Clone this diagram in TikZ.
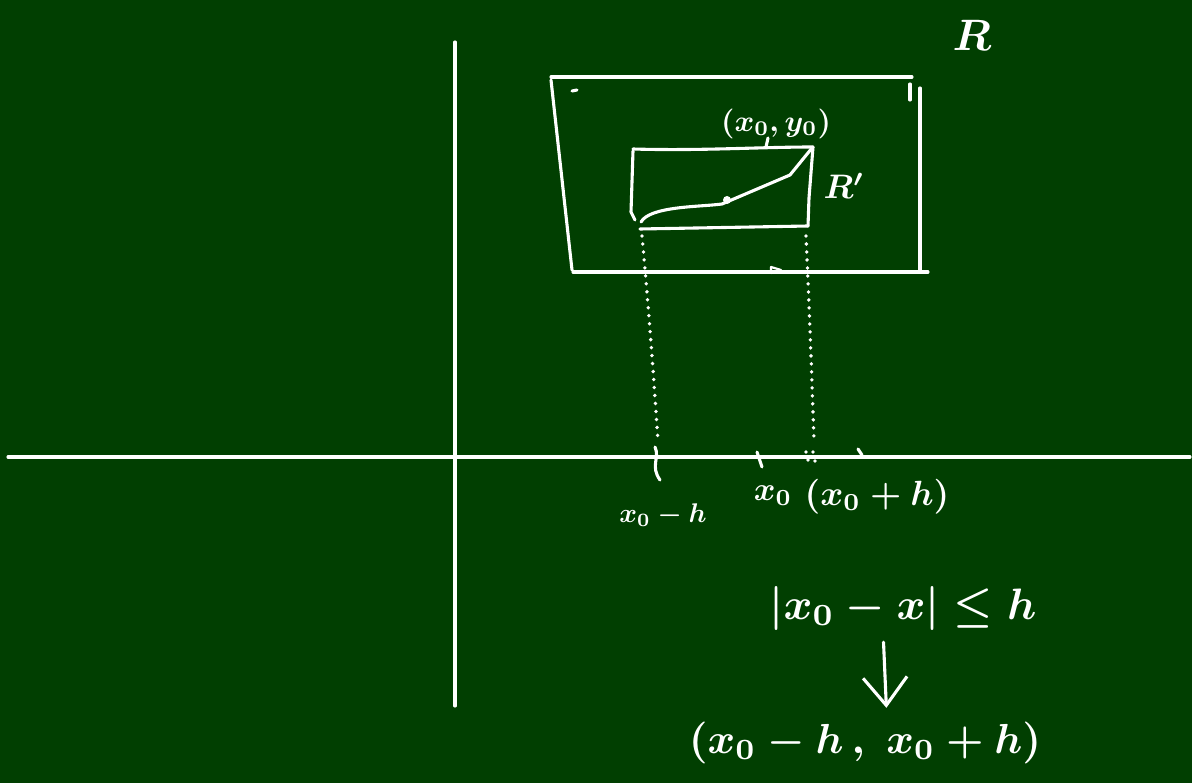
\documentclass[tikz,border=0pt]{standalone}
\usetikzlibrary{arrows.meta}
\definecolor{board}{RGB}{1,63,1}
\tikzset{
  chalk/.style={draw=white, line width=3.1pt, line cap=round, line join=round},
  dotchalk/.style={draw=white, line width=3.8pt, line cap=round, dash pattern=on 0pt off 8pt},
  lbl/.style={text=white, inner sep=0pt, font=\boldmath}
}
\begin{document}
\begin{tikzpicture}[x=1pt,y=-1pt]
\fill[board] (0,0) rectangle (1192,783);
\useasboundingbox (0,0) rectangle (1192,783);
% axes
\draw[chalk] (455,42) -- (455,706);
\draw[chalk] (8,457) -- (1190,457);
% outer region R
\draw[chalk] (551,77) -- (912,77);
\draw[chalk] (551,80) -- (572,270);
\draw[chalk] (573,272) -- (928,272);
\draw[chalk] (920,88) -- (920,270);
\draw[chalk] (910,84) -- (910,100);
\draw[chalk] (572,91) -- (577,90);
\draw[chalk, line width=2.2pt] (771,267) -- (781,270) -- (771,273) -- cycle;
\node[lbl] (R) at (972,35) {\scalebox{4.4}{$R$}};
% inner rectangle R'
\draw[chalk] (633,149) .. controls (700,151) and (760,147) .. (813,147);
\draw[chalk] (633,151) -- (631,212) -- (635,220);
\draw[chalk] (813,147) -- (809,198) -- (808,226);
\draw[chalk] (640,229) -- (808,226);
\draw[chalk] (641,222) .. controls (650,206) and (700,207) .. (722,204) -- (790,175) -- (812,148);
\fill[white] (727,200) circle (4);
\draw[chalk] (768,138) -- (766,147);
\node[lbl] (p0) at (776,124) {\scalebox{3}{$(x_0,y_0)$}};
\node[lbl] (Rp) at (844,186) {\scalebox{3.4}{$R'$}};
% dotted projections
\draw[dotchalk] (642,236) .. controls (648,300) and (654,380) .. (658,442);
\draw[dotchalk] (806,236) .. controls (809,300) and (812,380) .. (814,442);
% ticks on axis
\draw[chalk] (655,447) .. controls (660,458) and (650,466) .. (660,480);
\draw[chalk] (757,452) -- (762,467);
\draw[chalk] (858,449) -- (862,455);
\fill[white] (806,452) circle (1.8) (813,452) circle (1.8) (808,460) circle (1.8) (815,461) circle (1.8);
% axis labels
\node[lbl] (xm) at (663,515) {\scalebox{2.7}{$x_0-h$}};
\node[lbl] (x0) at (773,496) {\scalebox{3.3}{$x_0$}};
\node[lbl] (xp) at (877,497) {\scalebox{3.5}{$(x_0+h)$}};
% inequality and interval
\node[lbl] (ineq) at (903,608) {\scalebox{4.4}{$|x_0-x|\le h$}};
\node[lbl] (intv) at (865,743) {\scalebox{4.2}{$(x_0-h\,,\;x_0+h)$}};
\draw[chalk, -{Straight Barb[length=28pt, width=44pt, line width=3.1pt]}, shorten <=12pt, shorten >=14pt] ([xshift=-20pt]ineq.south) -- ([xshift=22pt]intv.north);
\end{tikzpicture}
\end{document}
